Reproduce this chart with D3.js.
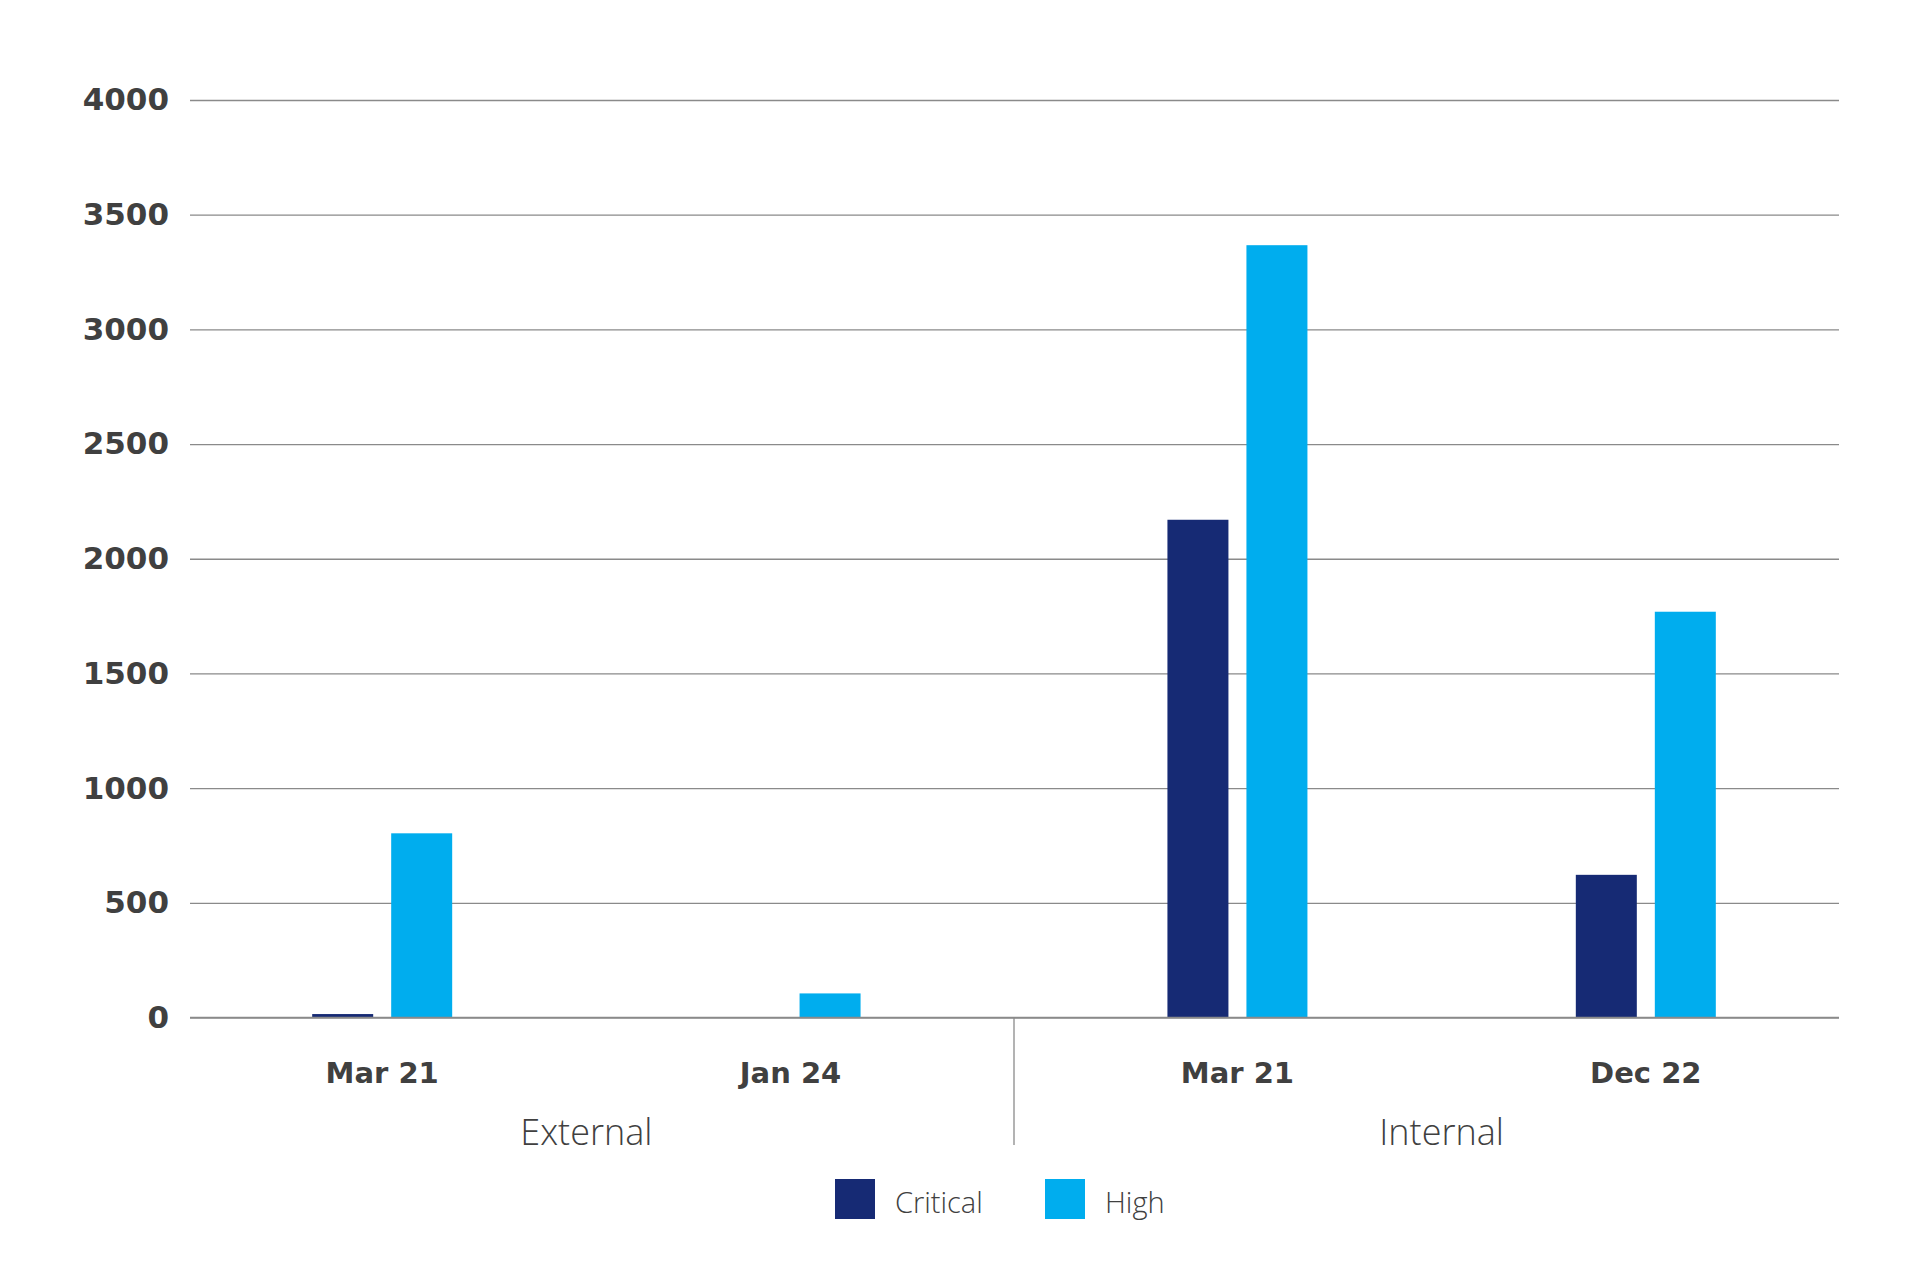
<!DOCTYPE html>
<html>
<head>
<meta charset="utf-8">
<script src="https://cdn.jsdelivr.net/npm/d3@7"></script>
<style>
  body { margin: 0; background: #fff; }
  svg text { fill: #404040; }
</style>
</head>
<body>
<div id="chart"></div>
<script>
// data
const groups = ["External", "Internal"];
const categories = [["External", "Mar 21"], ["External", "Jan 24"], ["Internal", "Mar 21"], ["Internal", "Dec 22"]];
const seriesNames = ["Critical", "High"];
const critical = [15, 0, 2170, 622];
const high = [803, 105, 3367, 1769];
const yTicks = [0, 500, 1000, 1500, 2000, 2500, 3000, 3500, 4000];
const colors = { Critical: "#162a74", High: "#00adee" };

const W = 1920, H = 1280;
const plotLeft = 190, plotRight = 1839;
const yTop = 100, yBottom = 1017.5;

const svg = d3.select("#chart").append("svg")
    .attr("width", W)
    .attr("height", H);

// scales
const y = d3.scaleLinear().domain([0, 4000]).range([yBottom, yTop]);

// groups (External / Internal) with a small gap between them
const x0 = d3.scaleBand().domain(groups).range([178, 1850]).paddingInner(0.045);

// category scale inside each group
const x1 = d3.scaleBand().domain([0, 1]).range([0, x0.bandwidth()]);

// two bars per category, 61px wide with an 18px gap
const barW = 61, barGap = 18;
const step = barW + barGap;
const x2 = d3.scaleBand().domain(seriesNames)
    .range([0, x1.bandwidth()])
    .paddingInner(barGap / step)
    .paddingOuter((x1.bandwidth() / step - 2 + barGap / step) / 2);

const rows = categories.map((c, i) => ({
    group: c[0],
    label: c[1],
    idx: categories.filter(d => d[0] === c[0]).indexOf(c),
    Critical: critical[i],
    High: high[i]
}));

const catX = d => x0(d.group) + x1(d.idx);

// y axis + gridlines
const yAxis = svg.append("g")
    .attr("transform", `translate(${plotLeft},0)`)
    .call(d3.axisLeft(y).tickValues(yTicks).tickSize(-(plotRight - plotLeft)).tickPadding(21).tickFormat(d3.format("d")));
yAxis.select(".domain").remove();
yAxis.selectAll(".tick line").attr("stroke", "#8a8a8a").attr("stroke-width", 1.3);
yAxis.selectAll(".tick text")
    .attr("font-family", "DejaVu Sans")
    .attr("font-weight", "bold")
    .attr("font-size", 31)
    .attr("fill", "#404040");

// bars
const cat = svg.append("g").selectAll("g")
    .data(rows)
    .enter().append("g")
    .attr("transform", d => `translate(${catX(d)},0)`);

cat.selectAll("rect")
    .data(d => seriesNames.map(s => ({ key: s, value: d[s] })).filter(e => e.value > 0))
    .enter().append("rect")
    .attr("x", d => x2(d.key))
    .attr("width", x2.bandwidth())
    .attr("y", d => y(d.value))
    .attr("height", d => y(0) - y(d.value))
    .attr("fill", d => colors[d.key]);

// baseline on top of bars
svg.append("line")
    .attr("x1", plotLeft).attr("x2", plotRight)
    .attr("y1", y(0)).attr("y2", y(0))
    .attr("stroke", "#8a8a8a").attr("stroke-width", 1.3);

// category labels
svg.append("g").selectAll("text")
    .data(rows)
    .enter().append("text")
    .attr("x", d => catX(d) + x1.bandwidth() / 2)
    .attr("y", 1083)
    .attr("text-anchor", "middle")
    .attr("font-family", "DejaVu Sans")
    .attr("font-weight", "bold")
    .attr("font-size", 29)
    .text(d => d.label);

// group labels
svg.append("g").selectAll("text")
    .data(groups)
    .enter().append("text")
    .attr("x", d => x0(d) + x0.bandwidth() / 2)
    .attr("y", 1145)
    .attr("text-anchor", "middle")
    .attr("font-family", "Open Sans")
    .attr("font-weight", 300)
    .attr("font-size", 36)
    .text(d => d);

// separator between the groups
const sepX = (x0("External") + x0.bandwidth() + x0("Internal")) / 2;
svg.append("line")
    .attr("x1", sepX).attr("x2", sepX)
    .attr("y1", y(0)).attr("y2", 1145)
    .attr("stroke", "#8a8a8a").attr("stroke-width", 1.3);

// legend
const legendX = [835, 1045];
const legend = svg.append("g").selectAll("g")
    .data(seriesNames)
    .enter().append("g")
    .attr("transform", (d, i) => `translate(${legendX[i]},1179)`);
legend.append("rect")
    .attr("width", 40).attr("height", 40)
    .attr("fill", d => colors[d]);
legend.append("text")
    .attr("x", 60).attr("y", 34)
    .attr("font-family", "Open Sans")
    .attr("font-weight", 300)
    .attr("font-size", 29)
    .text(d => d);
</script>
</body>
</html>
